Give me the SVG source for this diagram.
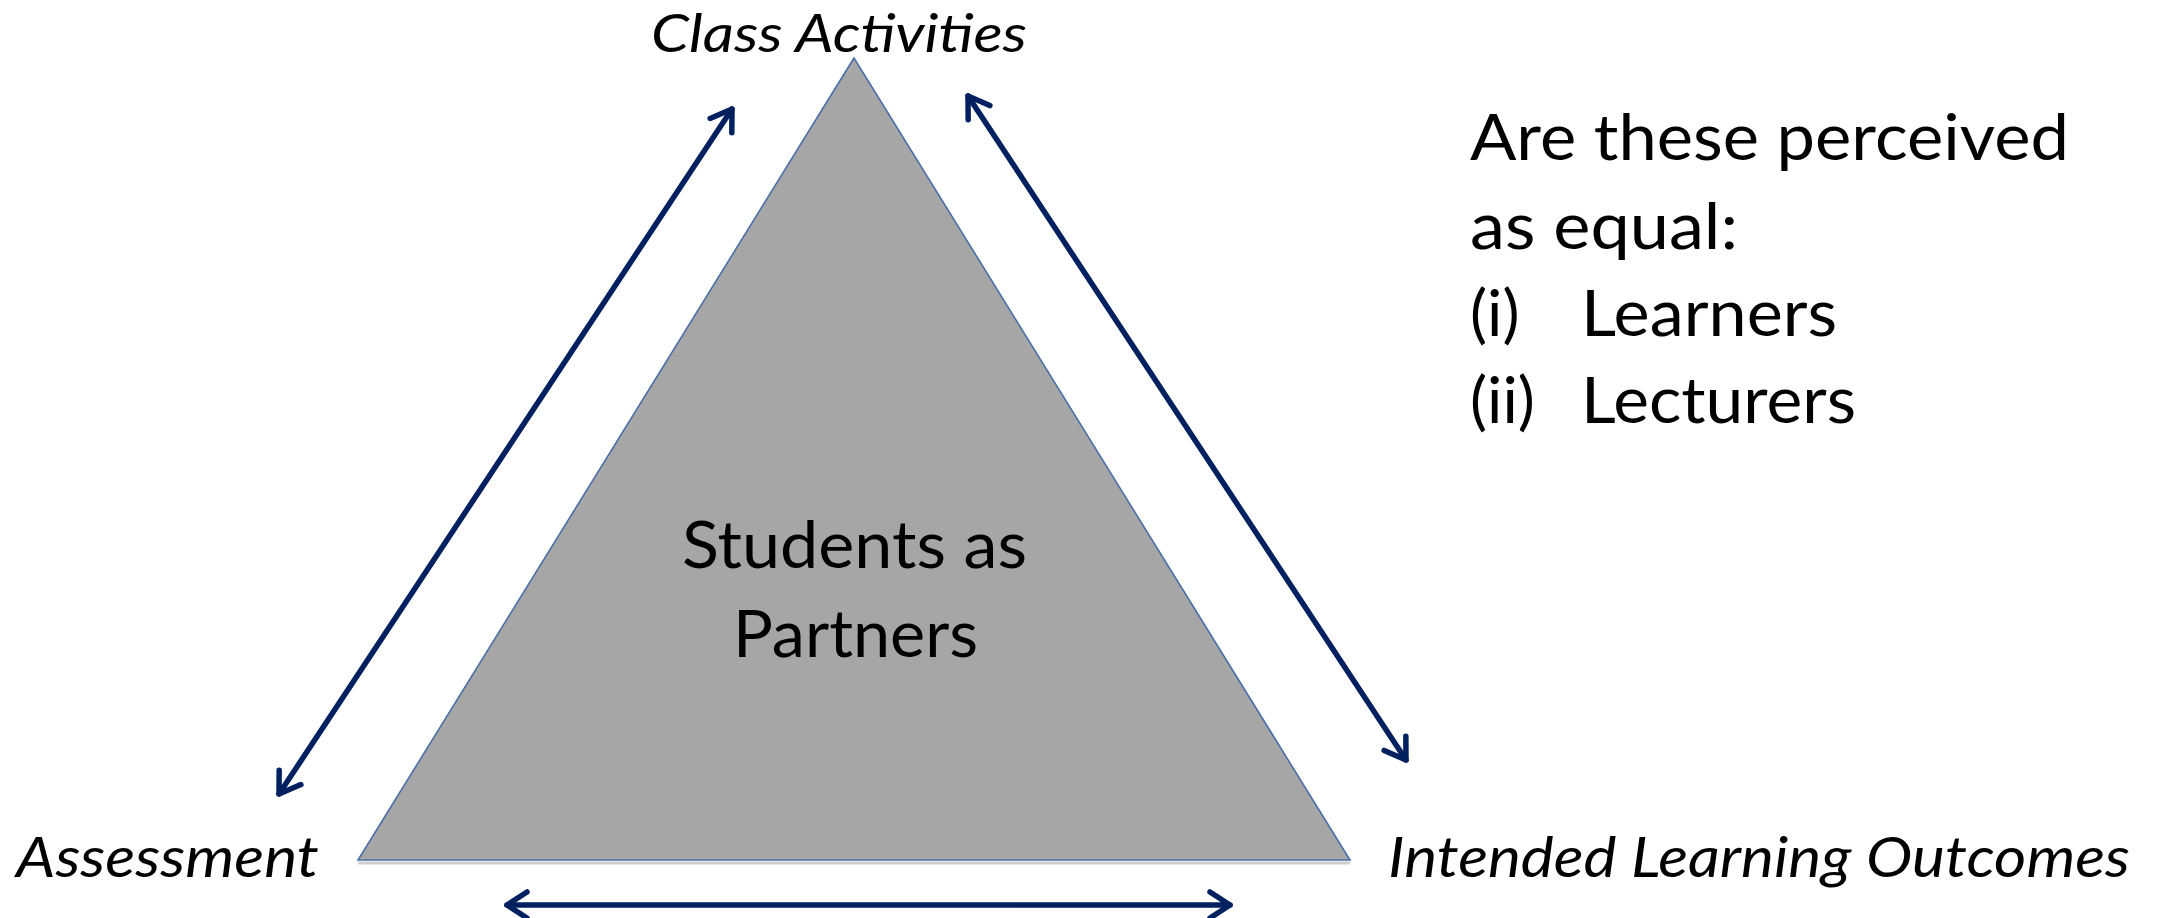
<svg xmlns="http://www.w3.org/2000/svg" width="2159" height="918" viewBox="0 0 2159 918">
<style>
  .lbl { font-family: Lato, "Open Sans", "Liberation Sans", sans-serif; fill: #000; }
  .it { font-style: italic; font-size: 56px; }
  .top { font-size: 52px; }
  .ctr { font-size: 66px; }
  .rt { font-size: 64px; }
  .conn { stroke: #002060; stroke-width: 5.5; fill: none; stroke-linecap: round; }
</style>
<defs>
  <marker id="open" markerUnits="userSpaceOnUse" markerWidth="44" markerHeight="44" viewBox="-32 -22 44 44" refX="0" refY="0" orient="auto-start-reverse">
    <path d="M -20 -13 L 0 0 L -20 13" fill="none" stroke="#002060" stroke-width="5.5" stroke-linecap="round" stroke-linejoin="round"/>
  </marker>
</defs>
<rect width="2159" height="918" fill="#ffffff"/>
<g id="triangle">
  <line x1="358" y1="863" x2="1350" y2="863" stroke="#cfcfcf" stroke-width="3"/>
  <polygon points="854,58 358,860 1350,860" fill="#a6a6a6" stroke="#4a6fa8" stroke-width="1.6" stroke-linejoin="miter"/>
  <text class="lbl ctr" x="682" y="568" textLength="345" lengthAdjust="spacingAndGlyphs">Students as</text>
  <text class="lbl ctr" x="733" y="657" textLength="245" lengthAdjust="spacingAndGlyphs">Partners</text>
</g>
<g id="class-activities">
  <text class="lbl it top" x="651" y="52" textLength="376" lengthAdjust="spacingAndGlyphs">Class Activities</text>
</g>
<g id="assessment">
  <text class="lbl it" x="16" y="877" textLength="303" lengthAdjust="spacingAndGlyphs">Assessment</text>
</g>
<g id="ilo">
  <text class="lbl it" x="1388" y="877" textLength="742" lengthAdjust="spacingAndGlyphs">Intended Learning Outcomes</text>
</g>
<g id="question">
  <text class="lbl rt" x="1470" y="160" textLength="599" lengthAdjust="spacingAndGlyphs">Are these perceived</text>
  <text class="lbl rt" x="1470" y="249" textLength="268" lengthAdjust="spacingAndGlyphs">as equal:</text>
  <text class="lbl rt" x="1470" y="336">(i)</text>
  <text class="lbl rt" x="1581" y="336" textLength="256" lengthAdjust="spacingAndGlyphs">Learners</text>
  <text class="lbl rt" x="1470" y="423">(ii)</text>
  <text class="lbl rt" x="1581" y="423" textLength="275" lengthAdjust="spacingAndGlyphs">Lecturers</text>
</g>
<g id="connectors">
  <line class="conn" x1="279" y1="794" x2="732" y2="109" marker-start="url(#open)" marker-end="url(#open)"/>
  <line class="conn" x1="968" y1="96" x2="1406" y2="760" marker-start="url(#open)" marker-end="url(#open)"/>
  <line class="conn" x1="507" y1="905" x2="1230" y2="905" marker-start="url(#open)" marker-end="url(#open)"/>
</g>
</svg>
